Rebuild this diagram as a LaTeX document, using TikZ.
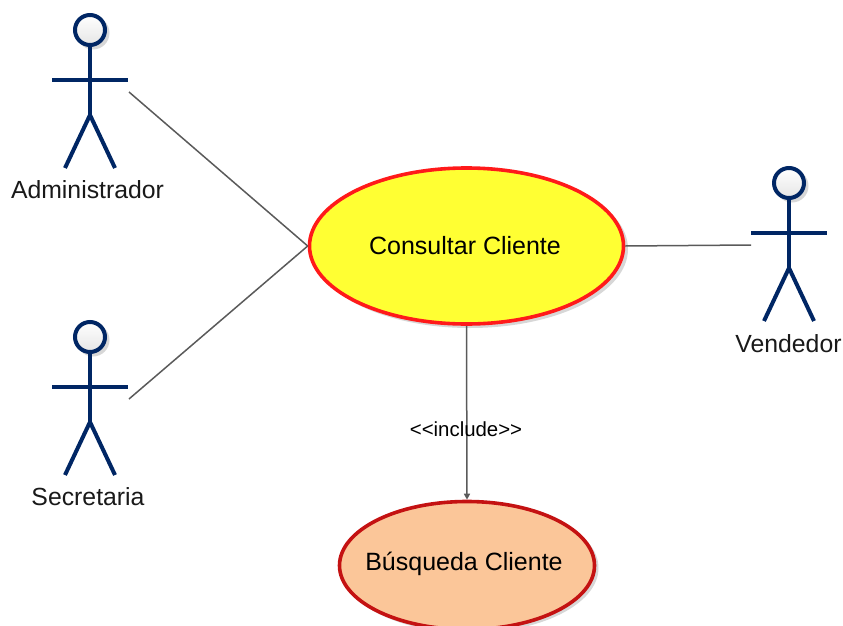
\documentclass[tikz,border=0pt]{standalone}
\usepackage{fontspec}
\setmainfont{Liberation Sans}
\usetikzlibrary{shapes.geometric,arrows.meta}
\definecolor{actorblue}{RGB}{0,38,100}
\definecolor{linkgray}{RGB}{90,90,90}
\definecolor{shadowgray}{RGB}{215,215,215}
\definecolor{caseyellow}{RGB}{255,255,51}
\definecolor{casered}{RGB}{255,26,26}
\definecolor{casepeach}{RGB}{251,198,153}
\definecolor{casedark}{RGB}{196,18,18}
\tikzset{
  actorline/.style={draw=actorblue,line width=4pt},
  actorhead/.style={circle,draw=actorblue,line width=4pt,inner sep=0pt,minimum size=30pt,top color=white,bottom color=black!10},
  headshadow/.style={circle,fill=shadowgray,inner sep=0pt,minimum size=33pt},
  actorlabel/.style={font=\fontsize{24.8}{29}\selectfont,text=black!90,inner sep=0pt},
  usecase/.style={ellipse,inner sep=0pt,line width=3.6pt},
  caselabel/.style={font=\fontsize{25}{29}\selectfont,inner sep=0pt},
  caseshadow/.style={ellipse,fill=shadowgray,inner sep=0pt},
  link/.style={draw=linkgray,line width=1.5pt},
  includelink/.style={draw=linkgray,line width=1.5pt,-{Triangle[length=6pt,width=6pt]}},
  includelabel/.style={font=\fontsize{20.4}{24}\selectfont,inner sep=0pt}
}
% name, head x, head y, label x, label y, text
\newcommand{\umlactor}[6]{%
  \node[headshadow] (#1shadow) at (#2+3,#3+3) {};
  \node[actorhead] (#1head) at (#2,#3) {};
  \coordinate (#1neck) at (#2,#3+15);
  \coordinate (#1hip) at (#2,#3+85);
  \coordinate (#1armL) at (#2-38,#3+49.5);
  \coordinate (#1armR) at (#2+38,#3+49.5);
  \coordinate (#1footL) at (#2-25,#3+138);
  \coordinate (#1footR) at (#2+25,#3+138);
  \draw[actorline] (#1neck) -- (#1hip);
  \draw[actorline] (#1armL) -- (#1armR);
  \draw[actorline] (#1footL) -- (#1hip) -- (#1footR);
  \node[actorlabel] (#1label) at (#4,#5) {#6};
}
\begin{document}
\begin{tikzpicture}[x=1pt,y=-1pt]
\useasboundingbox (0,0) rectangle (843,626);
\umlactor{admin}{90}{30}{87.5}{190}{Administrador}
\umlactor{secre}{90}{337}{88}{497}{Secretaria}
\umlactor{vend}{789}{183}{788.5}{344}{Vendedor}
\coordinate (adminport) at (129,92);
\coordinate (secreport) at (129,399);
\coordinate (vendport) at (751,245);
\node[caseshadow,minimum width=316pt,minimum height=158pt] (consultaShadow) at (470,249) {};
\node[caseshadow,minimum width=257pt,minimum height=130pt] (busquedaShadow) at (470,568) {};
\node[usecase,draw=casered,fill=caseyellow,minimum width=314pt,minimum height=156pt] (consulta) at (466.5,246) {};
\node[usecase,draw=casedark,fill=casepeach,minimum width=255pt,minimum height=128pt] (busqueda) at (467,565.5) {};
\node[caselabel] (consultaText) at (465,246) {Consultar Cliente};
\node[caselabel] (busquedaText) at (464,564) {Búsqueda Cliente};
\draw[link] (adminport) -- (consulta.west);
\draw[link] (secreport) -- (consulta.west);
\draw[link] (consulta.east) -- (vendport);
\draw[includelink] (consulta.south) -- (busqueda.north);
\node[includelabel] (inc) at (466,429.5) {<{}<include>{}>};
\end{tikzpicture}
\end{document}
